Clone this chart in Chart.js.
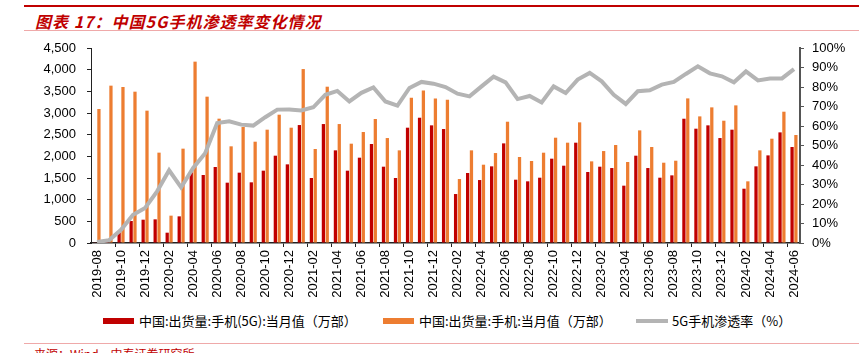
<!DOCTYPE html>
<html>
<head>
<meta charset="utf-8">
<script src="https://cdn.jsdelivr.net/npm/chart.js@4"></script>
<style>
  body { margin: 0; width: 859px; height: 353px; overflow: hidden; background: #fff; position: relative; font-family: "Liberation Sans", Arial, sans-serif; }
  .rule-top { position: absolute; left: 24px; right: 0; top: 5px; height: 2px; background: #c00000; }
  .rule-thin { position: absolute; left: 24px; right: 0; height: 1px; background: #efa9a9; }
  .title { position: absolute; left: 35px; top: 9px; color: #c00000; font: italic bold 16px "Noto Sans CJK SC", sans-serif; letter-spacing: 1px; white-space: nowrap; }
  .source { position: absolute; left: 34px; top: 345px; color: #c00000; font: 12px "Noto Sans CJK SC", sans-serif; white-space: nowrap; }
  #chartBox { position: absolute; left: 0; top: 0; width: 859px; height: 305px; }
  .legend { position: absolute; top: 311px; font: 13px "Noto Sans CJK SC", "Liberation Sans", sans-serif; color: #000; white-space: nowrap; }
  .legend span.box { position: absolute; }
  .legend span.txt { position: absolute; top: 0; }
</style>
</head>
<body>
<div class="rule-top"></div>
<div class="title">图表 17：中国5G手机渗透率变化情况</div>
<div class="rule-thin" style="top:30px"></div>
<div id="chartBox"><canvas id="penetrationChart"></canvas></div>
<div class="legend" style="left:0;width:859px;height:20px">
  <span class="box" style="left:103px;top:7px;width:31px;height:6px;background:#c00000"></span>
  <span class="txt" style="left:139px">中国:出货量:手机(5G):当月值（万部）</span>
  <span class="box" style="left:383px;top:7px;width:31px;height:6px;background:#ed7d31"></span>
  <span class="txt" style="left:419px">中国:出货量:手机:当月值（万部）</span>
  <span class="box" style="left:636px;top:8px;width:32px;height:4px;background:#b4b4b4"></span>
  <span class="txt" style="left:672px">5G手机渗透率（%）</span>
</div>
<div class="rule-thin" style="top:343px"></div>
<div class="source">来源：Wind，中泰证券研究所</div>

<script>
// months 2019-08 .. 2024-06
const months = [];
for (let y = 2019, m = 8; y < 2024 || (y === 2024 && m <= 6); m++) {
  if (m > 12) { m = 1; y++; }
  months.push(y + "-" + String(m).padStart(2, "0"));
}

// 中国:出货量:手机(5G):当月值（万部）
const shipments5G = [
  15, 50, 246, 508, 538, 546, 238, 615, 1631, 1569,
  1754, 1392, 1623, 1400, 1669, 2015, 1815, 2722, 1500, 2745,
  2138, 1669, 1969, 2284, 1761, 1500, 2661, 2891, 2715, 2630,
  1130, 1615, 1453, 1769, 2299, 1461, 1423, 1507, 1946, 1784,
  2315, 1638, 1761, 1730, 1323, 2015, 1730, 1507, 1561, 2868,
  2638, 2715, 2422, 2615, 1253, 1769, 2022, 2553, 2215,
];

// 中国:出货量:手机:当月值（万部）
const shipmentsAll = [
  3092, 3631, 3600, 3492, 3054, 2085, 631, 2177, 4185, 3377,
  2869, 2231, 2677, 2338, 2615, 2961, 2661, 4014, 2169, 3607,
  2745, 2292, 2561, 2861, 2422, 2138, 3353, 3522, 3337, 3307,
  1476, 2138, 1807, 2076, 2799, 1984, 1892, 2084, 2430, 2315,
  2784, 1884, 2122, 2261, 1869, 2599, 2215, 1853, 1899, 3337,
  2922, 3130, 2822, 3176, 1423, 2138, 2407, 3030, 2492,
];

// 5G手机渗透率（%）
const penetration = [
  0.5, 1.4, 6.8, 14.5, 18, 26.5, 37.3, 28.5, 38.5, 46,
  61.5, 62.4, 60.7, 60.2, 64.5, 68.4, 68.5, 68, 69.6, 76,
  78, 72.6, 77, 79.8, 72.6, 70.4, 79.5, 82.6, 81.7, 80,
  76.6, 75.2, 80.3, 85.3, 82.4, 73.8, 75.4, 72.1, 80.3, 76.9,
  83.8, 87.2, 82.9, 76, 71.3, 77.8, 78.3, 81.2, 82.6, 86.7,
  90.6, 87, 85.5, 82.4, 88, 83.4, 84.3, 84.4, 89.2,
];

const tickFont = { family: "'Liberation Sans', Arial, sans-serif", size: 13 };

const ctx = document.getElementById("penetrationChart").getContext("2d");
new Chart(ctx, {
  data: {
    labels: months,
    datasets: [
      {
        type: "line",
        label: "5G手机渗透率（%）",
        data: penetration,
        yAxisID: "yRight",
        borderColor: "#b4b4b4",
        borderWidth: 4,
        pointRadius: 0,
        tension: 0,
        order: 0,
      },
      {
        type: "bar",
        label: "中国:出货量:手机(5G):当月值（万部）",
        data: shipments5G,
        yAxisID: "y",
        backgroundColor: "#c00000",
        categoryPercentage: 0.64,
        barPercentage: 0.85,
        order: 1,
      },
      {
        type: "bar",
        label: "中国:出货量:手机:当月值（万部）",
        data: shipmentsAll,
        yAxisID: "y",
        backgroundColor: "#ed7d31",
        categoryPercentage: 0.64,
        barPercentage: 0.85,
        order: 1,
      },
    ],
  },
  options: {
    responsive: true,
    maintainAspectRatio: false,
    animation: false,
    layout: { padding: { top: 48, left: 0, right: 0, bottom: 0 } },
    plugins: {
      legend: { display: false },
      tooltip: { enabled: false },
    },
    scales: {
      x: {
        offset: true,
        afterFit: (s) => { s.height = 62; },
        border: { color: "#222", width: 1.5 },
        grid: {
          offset: true,
          drawOnChartArea: false,
          tickLength: 4,
          color: (c) => (c.index > 0 && c.index % 2 === 0 ? "#222" : "rgba(0,0,0,0)"),
        },
        ticks: {
          autoSkip: false,
          maxRotation: 90,
          minRotation: 90,
          padding: 3,
          color: "#000",
          font: tickFont,
          callback: (v, i) => (i % 2 === 0 ? months[i] : ""),
        },
      },
      y: {
        position: "left",
        min: 0,
        max: 4500,
        afterFit: (s) => { s.width = 91; },
        border: { color: "#222", width: 1 },
        grid: { drawOnChartArea: false, tickLength: 4, color: "#222" },
        ticks: {
          stepSize: 500,
          padding: 11,
          color: "#000",
          font: tickFont,
          callback: (v) => v.toLocaleString("en-US"),
        },
      },
      yRight: {
        position: "right",
        min: 0,
        max: 100,
        afterFit: (s) => { s.width = 59; },
        border: { color: "#555", width: 2 },
        grid: { drawOnChartArea: false, tickLength: 4, color: "#555" },
        ticks: {
          stepSize: 10,
          padding: 8,
          color: "#000",
          font: tickFont,
          callback: (v) => v + "%",
        },
      },
    },
  },
});
</script>
</body>
</html>
